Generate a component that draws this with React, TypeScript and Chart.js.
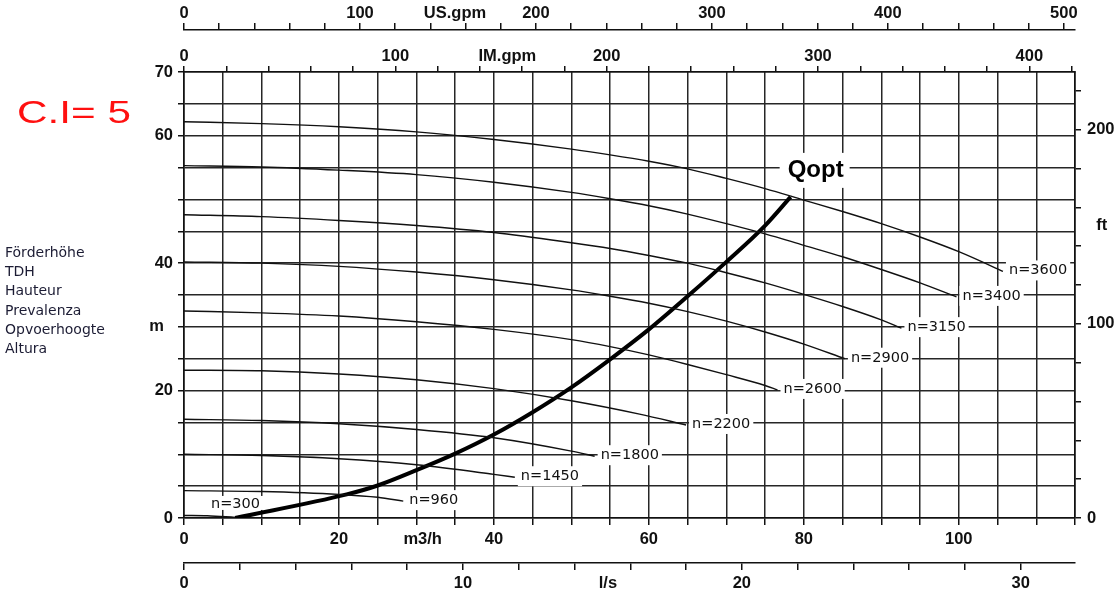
import { useEffect, useRef } from 'react';
import { Chart, registerables } from 'chart.js';

Chart.register(...registerables);

// unit conversions
const LS_PER_M3H = 1 / 3.6;
const USGPM_PER_M3H = 4.40287;
const IMGPM_PER_M3H = 3.66615;
const FT_PER_M = 3.28084;

const FLOW_MAX = 115; // m3/h
const HEAD_MAX = 70; // m

// speed curves (Q in m3/h, H in m)
const q300 = [0, 3, 6.6];
const h300 = [0.4, 0.35, 0.1];
const q960 = [0, 10, 20, 25, 28.3];
const h960 = [4.3, 4.15, 3.7, 3.25, 2.65];
const q1450 = [0, 10, 20, 30, 40, 42.7];
const h1450 = [10.0, 9.8, 9.3, 8.35, 6.85, 6.4];
const q1800 = [0, 10, 20, 30, 40, 50, 53];
const h1800 = [15.5, 15.3, 14.8, 13.9, 12.6, 10.5, 9.7];
const q2200 = [0, 10, 20, 30, 40, 50, 58.8, 64.8];
const h2200 = [23.2, 23.1, 22.6, 21.7, 20.3, 18.4, 16.3, 14.6];
const q2600 = [0, 10, 20, 30, 40, 50, 55, 60, 65, 70, 75, 76.6];
const h2600 = [32.5, 32.2, 31.7, 30.8, 29.6, 28.0, 26.9, 25.6, 24.1, 22.5, 20.8, 20.1];
const q2900 = [0, 10, 20, 30, 40, 50, 55, 60, 65, 70, 75, 80, 85.3];
const h2900 = [40.2, 40.0, 39.5, 38.6, 37.4, 35.8, 34.8, 33.7, 32.4, 30.9, 29.2, 27.3, 25.0];
const q3150 = [0, 10, 20, 30, 40, 50, 55, 60, 65, 70, 75, 80, 85, 90, 92.6];
const h3150 = [47.6, 47.3, 46.7, 45.9, 44.8, 43.2, 42.3, 41.2, 40.0, 38.5, 36.9, 35.1, 33.2, 31.1, 29.8];
const q3400 = [0, 10, 20, 30, 40, 50, 55, 60, 65, 70, 75, 80, 85, 90, 95, 99.7];
const h3400 = [55.3, 55.1, 54.6, 53.9, 52.7, 51.1, 50.1, 49.0, 47.7, 46.2, 44.6, 42.8, 41.0, 39.0, 36.9, 34.7];
const q3600 = [0, 10, 20, 30, 40, 50, 55, 60, 65, 70, 75, 80, 85, 90, 95, 100, 105, 105.7];
const h3600 = [62.2, 61.9, 61.4, 60.6, 59.4, 57.9, 57.0, 56.0, 54.8, 53.3, 51.7, 49.9, 48.1, 46.2, 44.1, 41.8, 39.1, 38.7];

// optimum flow line
const qOpt = [6.6, 21, 25, 30, 35, 40, 45, 50, 55, 60, 65, 70, 75, 78.3];
const hOpt = [0, 3.7, 5.1, 7.5, 10.1, 13.1, 16.6, 20.5, 24.9, 29.6, 34.8, 40.2, 45.9, 50.4];

const curveNames = ['n=300', 'n=960', 'n=1450', 'n=1800', 'n=2200', 'n=2600', 'n=2900', 'n=3150', 'n=3400', 'n=3600'];
const curveQ = [q300, q960, q1450, q1800, q2200, q2600, q2900, q3150, q3400, q3600];
const curveH = [h300, h960, h1450, h1800, h2200, h2600, h2900, h3150, h3400, h3600];

// axis tick labels
const m3hLabels = [0, 20, 40, 60, 80, 100];
const mLabels = [0, 20, 40, 60, 70];
const lsLabels = [0, 10, 20, 30];
const usLabels = [0, 100, 200, 300, 400, 500];
const imLabels = [0, 100, 200, 300, 400];
const ftLabels = [0, 100, 200];

const sideTexts = ['Förderhöhe', 'TDH', 'Hauteur', 'Prevalenza', 'Opvoerhoogte', 'Altura'];
const ciText = 'C.I= 5';
const qoptText = 'Qopt';

const range = (step: number, max: number) => {
  const out: number[] = [];
  for (let v = 0; v <= max + 1e-9; v += step) out.push(Math.round(v * 1000) / 1000);
  return out;
};

const TICK_FONT = { family: '"Liberation Sans", Arial, sans-serif', size: 16.5, weight: 'bold' as const };
const INK = '#111';
const GRID = '#262626';

function axis(opts: {
  axis: 'x' | 'y';
  position: string;
  max: number;
  step: number;
  labels: number[];
  titleValue: number;
  title: string;
  size: number;
  weight: number;
  grid: boolean;
  tickLength: number;
  padding: number;
}) {
  const tickValues = range(opts.step, opts.max);
  const hasTitleTick = tickValues.includes(opts.titleValue);
  const values = hasTitleTick ? tickValues : [...tickValues, opts.titleValue].sort((a, b) => a - b);
  const isExtra = (v: number) => !hasTitleTick && v === opts.titleValue;
  return {
    type: 'linear',
    axis: opts.axis,
    position: opts.position,
    min: 0,
    max: opts.max,
    weight: opts.weight,
    afterBuildTicks: (scale: any) => {
      scale.ticks = values.map((v) => ({ value: v }));
    },
    afterFit: (scale: any) => {
      if (opts.axis === 'x') scale.height = opts.size;
      else scale.width = opts.size;
    },
    border: { display: true, color: INK, width: 1.6 },
    grid: {
      display: true,
      drawOnChartArea: opts.grid,
      drawTicks: true,
      tickLength: opts.tickLength,
      lineWidth: 1.5,
      tickWidth: 1.5,
      color: (ctx: any) => (ctx.tick && isExtra(ctx.tick.value) ? 'rgba(0,0,0,0)' : GRID),
      tickColor: (ctx: any) => (ctx.tick && isExtra(ctx.tick.value) ? 'rgba(0,0,0,0)' : INK),
    },
    ticks: {
      autoSkip: false,
      maxRotation: 0,
      minRotation: 0,
      padding: opts.padding,
      color: INK,
      font: TICK_FONT,
      callback: (value: number) => {
        if (value === opts.titleValue) return opts.title;
        return opts.labels.includes(value) ? String(value) : '';
      },
    },
  };
}

const annotations = {
  id: 'annotations',
  afterDatasetsDraw(chart: any) {
    const ctx = chart.ctx;
    const xs = chart.scales.x;
    const ys = chart.scales.y;
    ctx.save();
    // speed labels
    ctx.font = '14.5px "DejaVu Sans", sans-serif';
    ctx.textBaseline = 'alphabetic';
    ctx.textAlign = 'left';
    curveNames.forEach((name, i) => {
      const q = curveQ[i];
      const h = curveH[i];
      let x: number;
      let y: number;
      let top = 14;
      let bottom = 6;
      if (i === 0) {
        x = xs.getPixelForValue(q[0]) + 27;
        y = ys.getPixelForValue(h[0]) - 7.5;
        top = 12;
        bottom = 2;
      } else {
        const n = q.length - 1;
        x = xs.getPixelForValue(q[n]) + 6;
        y = ys.getPixelForValue(h[n]) + 3;
      }
      const w = ctx.measureText(name).width;
      ctx.fillStyle = '#fff';
      ctx.fillRect(x - 3, y - top, w + 6, top + bottom);
      ctx.fillStyle = INK;
      ctx.fillText(name, x, y);
    });
    // Qopt label
    const n = qOpt.length - 1;
    const qx = xs.getPixelForValue(qOpt[n]) - 3;
    const qy = ys.getPixelForValue(hOpt[n]) - 20;
    ctx.font = 'bold 24px "Liberation Sans", Arial, sans-serif';
    const qw = ctx.measureText(qoptText).width;
    ctx.fillStyle = '#fff';
    ctx.fillRect(qx - 8, qy - 24, qw + 14, 35);
    ctx.fillStyle = '#000';
    ctx.fillText(qoptText, qx, qy);
    ctx.restore();
  },
  afterDraw(chart: any) {
    const ctx = chart.ctx;
    ctx.save();
    ctx.textBaseline = 'alphabetic';
    ctx.textAlign = 'left';
    ctx.font = '14px "DejaVu Sans", sans-serif';
    ctx.fillStyle = '#1c1c34';
    sideTexts.forEach((t, i) => ctx.fillText(t, 5, 257 + i * 19.2));
    ctx.translate(17, 123);
    ctx.scale(1.32, 1);
    ctx.font = '32px "Liberation Sans", Arial, sans-serif';
    ctx.fillStyle = '#ff1010';
    ctx.fillText(ciText, 0, 0);
    ctx.restore();
  },
};

export default function App() {
  const ref = useRef<HTMLCanvasElement | null>(null);
  useEffect(() => {
    if (!ref.current) return;
    const datasets: any[] = curveNames.map((name, i) => ({
      label: name,
      data: curveQ[i].map((q, j) => ({ x: q, y: curveH[i][j] })),
      showLine: true,
      borderColor: '#111',
      borderWidth: 1.4,
      pointRadius: 0,
      cubicInterpolationMode: 'monotone',
      xAxisID: 'x',
      yAxisID: 'y',
    }));
    datasets.push({
      label: qoptText,
      data: qOpt.map((q, j) => ({ x: q, y: hOpt[j] })),
      showLine: true,
      borderColor: '#000',
      borderWidth: 4,
      pointRadius: 0,
      cubicInterpolationMode: 'monotone',
      xAxisID: 'x',
      yAxisID: 'y',
    });
    const chart = new Chart(ref.current, {
      type: 'scatter',
      data: { datasets },
      options: {
        animation: false,
        responsive: false,
        events: [],
        layout: { padding: { left: 124, right: 0, top: 0, bottom: 0 } },
        plugins: { legend: { display: false }, tooltip: { enabled: false } },
        scales: {
          x: axis({ axis: 'x', position: 'bottom', max: FLOW_MAX, step: 5, labels: m3hLabels, titleValue: 30.8, title: 'm3/h', size: 45, weight: 0, grid: true, tickLength: 7, padding: 5 }),
          xLS: axis({ axis: 'x', position: 'bottom', max: FLOW_MAX * LS_PER_M3H, step: 2, labels: lsLabels, titleValue: 15.2, title: 'l/s', size: 35, weight: 1, grid: false, tickLength: 7, padding: 4 }),
          xIM: axis({ axis: 'x', position: 'top', max: FLOW_MAX * IMGPM_PER_M3H, step: 20, labels: imLabels, titleValue: 153, title: 'IM.gpm', size: 42, weight: 0, grid: false, tickLength: 6, padding: 0 }),
          xUS: axis({ axis: 'x', position: 'top', max: FLOW_MAX * USGPM_PER_M3H, step: 20, labels: usLabels, titleValue: 154, title: 'US.gpm', size: 30, weight: 1, grid: false, tickLength: 7, padding: 0 }),
          y: axis({ axis: 'y', position: 'left', max: HEAD_MAX, step: 5, labels: mLabels, titleValue: 30, title: 'm  ', size: 60, weight: 0, grid: true, tickLength: 6, padding: 5 }),
          yFT: axis({ axis: 'y', position: 'right', max: HEAD_MAX * FT_PER_M, step: 20, labels: ftLabels, titleValue: 150.8, title: '  ft', size: 45, weight: 0, grid: false, tickLength: 6, padding: 6 }),
        } as any,
      },
      plugins: [annotations],
    } as any);
    return () => chart.destroy();
  }, []);
  return (
    <div style={{ position: 'fixed', left: 0, top: 0, width: 1120, height: 598, background: '#fff' }}>
      <canvas ref={ref} width={1120} height={598} style={{ display: 'block' }} />
    </div>
  );
}
